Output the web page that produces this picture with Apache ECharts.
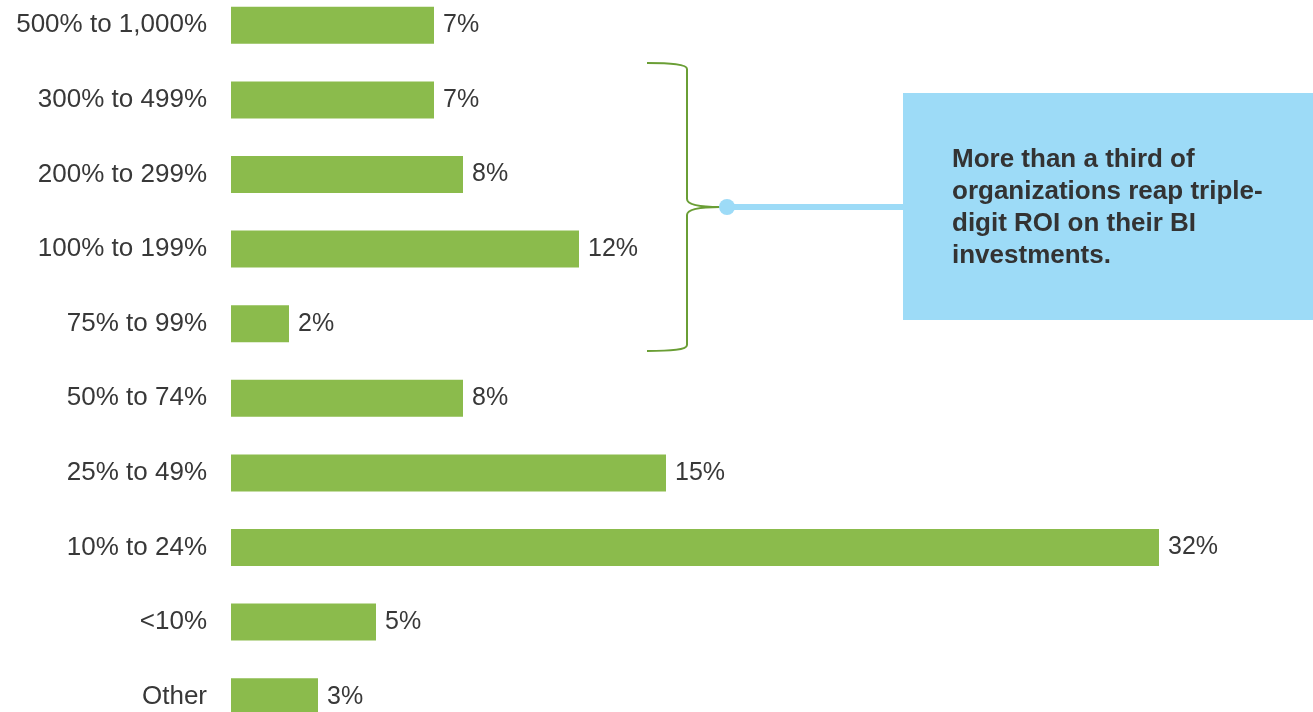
<!DOCTYPE html>
<html>
<head>
<meta charset="utf-8">
<script src="https://cdn.jsdelivr.net/npm/echarts@6/dist/echarts.min.js"></script>
<style>
  html, body { margin: 0; padding: 0; background: #fff; }
  #chart { width: 1313px; height: 712px; }
</style>
</head>
<body>
<div id="chart"></div>
<script>
// ROI ranges reported, top to bottom
const categories = [
  '500% to 1,000%', '300% to 499%', '200% to 299%', '100% to 199%', '75% to 99%',
  '50% to 74%', '25% to 49%', '10% to 24%', '<10%', 'Other'
];
// Share of organizations (%)
const shares = [7, 7, 8, 12, 2, 8, 15, 32, 5, 3];

const calloutText = 'More than a third of\norganizations reap triple-\ndigit ROI on their BI\ninvestments.';

const FONT = '"Liberation Sans", Arial, sans-serif';
const TEXT = '#383838';
const GREEN = '#8bbb4c';
const BLUE = '#9ddbf7';
const BRACE = { fill: null, stroke: '#6a9e35', lineWidth: 2 };

const chart = echarts.init(document.getElementById('chart'));

// curly brace grouping the triple-digit ranges, built from curve pieces
const brace = [
  { type: 'bezierCurve', shape: { x1: 647, y1: 63, cpx1: 670, cpy1: 63, cpx2: 687, cpy2: 64, x2: 687, y2: 69 } },
  { type: 'line', shape: { x1: 687, y1: 69, x2: 687, y2: 199 } },
  { type: 'bezierCurve', shape: { x1: 687, y1: 199, cpx1: 687, cpy1: 205, cpx2: 700, cpy2: 207, x2: 720, y2: 207 } },
  { type: 'bezierCurve', shape: { x1: 720, y1: 207, cpx1: 700, cpy1: 207, cpx2: 687, cpy2: 209, x2: 687, y2: 215 } },
  { type: 'line', shape: { x1: 687, y1: 215, x2: 687, y2: 345 } },
  { type: 'bezierCurve', shape: { x1: 687, y1: 345, cpx1: 687, cpy1: 350, cpx2: 670, cpy2: 351, x2: 647, y2: 351 } }
].map(e => Object.assign(e, { style: BRACE }));

chart.setOption({
  animation: false,
  grid: {
    left: 231, right: 38, top: -12, height: 746,
    containLabel: false, outerBoundsMode: 'none'
  },
  xAxis: {
    type: 'value', min: 0, max: 36,
    show: false
  },
  yAxis: {
    type: 'category',
    data: categories,
    inverse: true,
    axisLine: { show: false },
    axisTick: { show: false },
    splitLine: { show: false },
    axisLabel: { fontSize: 26, color: TEXT, fontFamily: FONT, margin: 24 }
  },
  series: [{
    type: 'bar',
    data: shares,
    barWidth: 37,
    itemStyle: { color: GREEN },
    label: {
      show: true, position: 'right', distance: 9,
      formatter: '{c}%', fontSize: 25, color: TEXT, fontFamily: FONT
    }
  }],
  graphic: brace.concat([
    {
      type: 'line',
      shape: { x1: 727, y1: 207, x2: 904, y2: 207 },
      style: { stroke: BLUE, lineWidth: 6 }
    },
    {
      type: 'circle',
      shape: { cx: 727, cy: 207, r: 8 },
      style: { fill: BLUE }
    },
    {
      type: 'rect',
      shape: { x: 903, y: 93, width: 410, height: 227 },
      style: { fill: BLUE }
    },
    {
      type: 'text',
      x: 952, y: 144,
      style: {
        text: calloutText,
        font: 'bold 26px ' + FONT,
        fill: '#333333',
        lineHeight: 32
      }
    }
  ])
});
</script>
</body>
</html>
